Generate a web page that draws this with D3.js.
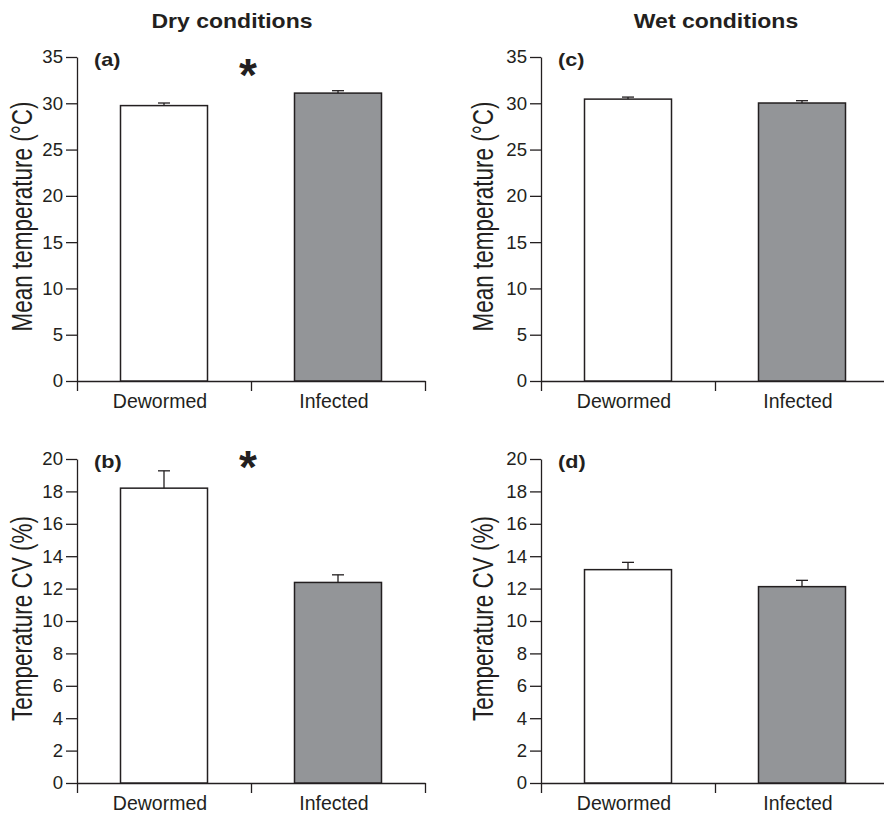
<!DOCTYPE html>
<html>
<head>
<meta charset="utf-8">
<script src="https://cdn.jsdelivr.net/npm/d3@7"></script>
<style>
  body { margin: 0; background: #fff; }
  svg { display: block; font-family: "Liberation Sans", Arial, sans-serif; }
</style>
</head>
<body>
<svg id="chart" width="884" height="813"></svg>
<script>
/*** DATA ***/
var groups = ["Dewormed", "Infected"];

// Mean temperature (°C)
var dryMean = [29.75, 31.1],
    dryMeanSE = [0.28, 0.26],
    wetMean = [30.45, 30.03],
    wetMeanSE = [0.22, 0.25];

// Temperature CV (%)
var dryCV = [18.2, 12.38],
    dryCVSE = [1.07, 0.47],
    wetCV = [13.17, 12.12],
    wetCVSE = [0.45, 0.39];

var meanTicks = [0, 5, 10, 15, 20, 25, 30, 35],
    cvTicks = [0, 2, 4, 6, 8, 10, 12, 14, 16, 18, 20];

var panels = [
  {id: "(a)", col: 0, row: 0, mean: dryMean, se: dryMeanSE, max: 35, ticks: meanTicks, label: "Mean temperature (°C)", star: 34},
  {id: "(b)", col: 0, row: 1, mean: dryCV, se: dryCVSE, max: 20, ticks: cvTicks, label: "Temperature CV (%)", star: 24},
  {id: "(c)", col: 1, row: 0, mean: wetMean, se: wetMeanSE, max: 35, ticks: meanTicks, label: "Mean temperature (°C)", star: null},
  {id: "(d)", col: 1, row: 1, mean: wetCV, se: wetCVSE, max: 20, ticks: cvTicks, label: "Temperature CV (%)", star: null}
];

var columnTitles = ["Dry conditions", "Wet conditions"];

/*** LAYOUT ***/
var ink = "#231f20",
    fills = ["#ffffff", "#939598"],
    axisLeftX = [77, 541],
    labelX = [32, 493],
    axisWidth = 348,
    zeroY = [381, 783],
    topY = [57, 459],
    titleX = [232, 716];

var svg = d3.select("#chart");

// column titles (slightly wide bold face)
svg.selectAll("text.col-title").data(columnTitles).enter()
  .append("text")
    .attr("class", "col-title")
    .attr("transform", (d, i) => "translate(" + titleX[i] + ",28) scale(1.15,1)")
    .attr("text-anchor", "middle")
    .attr("font-weight", "bold")
    .attr("font-size", "20px")
    .attr("fill", ink)
    .text(d => d);

panels.forEach(p => {
  var x0 = axisLeftX[p.col],
      x1 = x0 + axisWidth,
      g = svg.append("g");

  var y = d3.scaleLinear().domain([0, p.max]).range([zeroY[p.row], topY[p.row]]);
  var x = d3.scaleBand().domain(groups).range([x0, x1])
    .paddingInner(0.5).paddingOuter(0.25);
  var xEdge = d3.scaleLinear().domain([0, groups.length]).range([x0, x1]);

  // y axis
  var yAxis = g.append("g")
    .attr("transform", "translate(" + x0 + ",0)")
    .call(d3.axisLeft(y).tickValues(p.ticks).tickSize(11).tickSizeOuter(0).tickPadding(3));
  yAxis.selectAll("path, line").attr("stroke", ink).attr("stroke-width", 1.3);
  yAxis.selectAll("text")
    .attr("font-family", "Liberation Sans, Arial, sans-serif")
    .attr("font-size", "18.6px")
    .attr("fill", ink);

  // x axis with boundary ticks
  var xAxis = g.append("g")
    .attr("transform", "translate(0," + zeroY[p.row] + ")")
    .call(d3.axisBottom(xEdge).tickValues(d3.range(groups.length + 1)).tickFormat("").tickSize(10).tickSizeOuter(0));
  xAxis.selectAll("path, line").attr("stroke", ink).attr("stroke-width", 1.3);

  // category labels
  g.selectAll("text.cat").data(groups).enter()
    .append("text")
      .attr("class", "cat")
      .attr("x", d => x(d) + x.bandwidth() / 2 - 4)
      .attr("y", zeroY[p.row] + 27)
      .attr("text-anchor", "middle")
      .attr("font-size", "19.5px")
      .attr("fill", ink)
      .text(d => d);

  // bars
  g.selectAll("rect.bar").data(groups).enter()
    .append("rect")
      .attr("class", "bar")
      .attr("x", d => x(d))
      .attr("width", x.bandwidth())
      .attr("y", (d, i) => y(p.mean[i]))
      .attr("height", (d, i) => y(0) - y(p.mean[i]))
      .attr("fill", (d, i) => fills[i])
      .attr("stroke", ink)
      .attr("stroke-width", 1.5);

  // error bars (upper only)
  var err = g.selectAll("g.err").data(groups).enter()
    .append("g").attr("class", "err")
      .attr("transform", d => "translate(" + (x(d) + x.bandwidth() / 2) + ",0)");
  err.append("line")
    .attr("y1", (d, i) => y(p.mean[i]))
    .attr("y2", (d, i) => y(p.mean[i] + p.se[i]))
    .attr("stroke", ink).attr("stroke-width", 1.3);
  err.append("line")
    .attr("x1", -6).attr("x2", 6)
    .attr("y1", (d, i) => y(p.mean[i] + p.se[i]))
    .attr("y2", (d, i) => y(p.mean[i] + p.se[i]))
    .attr("stroke", ink).attr("stroke-width", 1.3);

  // y label: tall, condensed lettering
  var midY = (zeroY[p.row] + topY[p.row]) / 2 - 2.5;
  g.append("text")
    .attr("transform", "translate(" + labelX[p.col] + "," + midY + ") rotate(-90) scale(0.775,1)")
    .attr("text-anchor", "middle")
    .attr("font-size", "29px")
    .attr("fill", ink)
    .text(p.label);

  // panel letter
  g.append("text")
    .attr("transform", "translate(" + (x0 + 17) + "," + (topY[p.row] + 9) + ") scale(1.2,1)")
    .attr("font-weight", "bold")
    .attr("font-size", "18px")
    .attr("fill", ink)
    .text(p.id);

  // significance marker
  if (p.star !== null) {
    g.append("text")
      .attr("x", (x0 + x1) / 2 - 3)
      .attr("y", topY[p.row] + p.star)
      .attr("text-anchor", "middle")
      .attr("font-weight", "bold")
      .attr("font-size", "46px")
      .attr("fill", ink)
      .text("*");
  }
});
</script>
</body>
</html>
